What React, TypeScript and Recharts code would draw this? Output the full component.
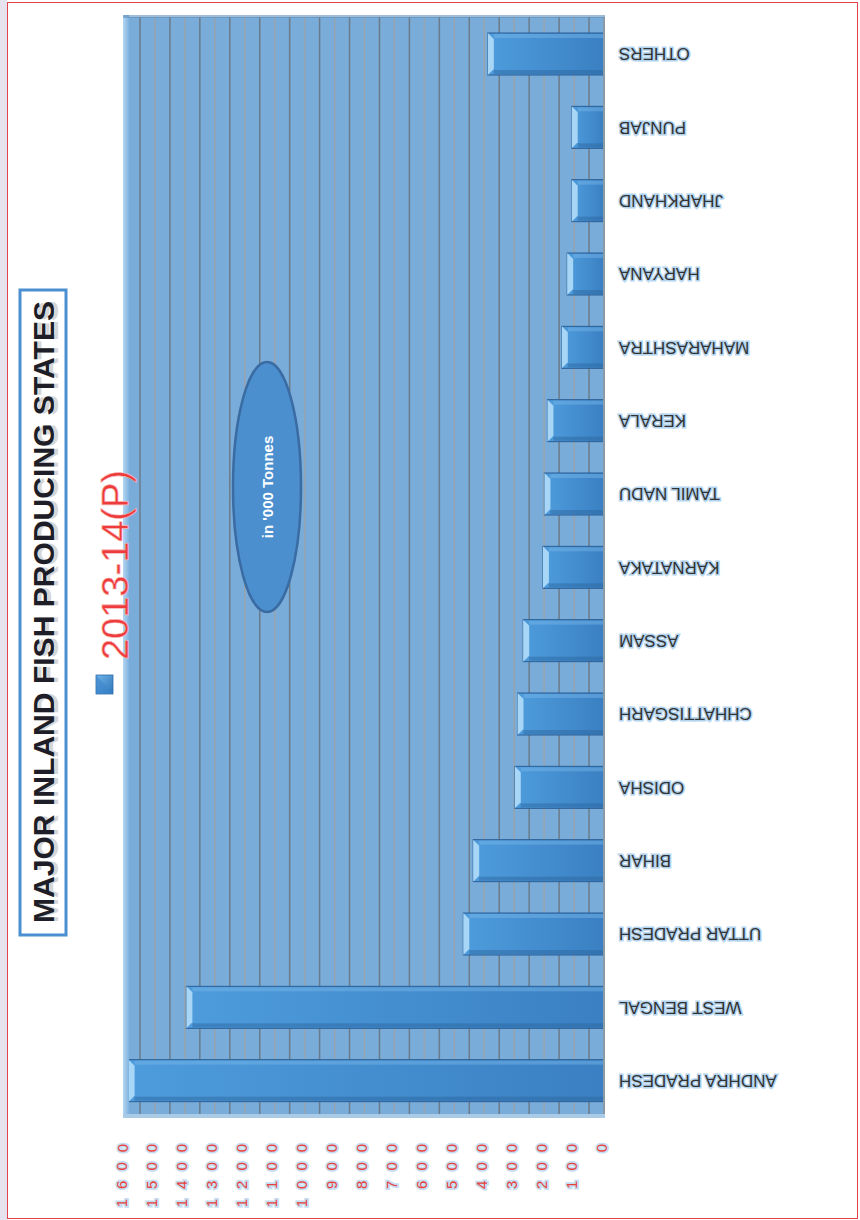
import { BarChart, Bar, XAxis, YAxis, CartesianGrid } from 'recharts';

const states = [
  'ANDHRA PRADESH', 'WEST BENGAL', 'UTTAR PRADESH', 'BIHAR', 'ODISHA',
  'CHHATTISGARH', 'ASSAM', 'KARNATAKA', 'TAMIL NADU', 'KERALA',
  'MAHARASHTRA', 'HARYANA', 'JHARKHAND', 'PUNJAB', 'OTHERS',
];
const production = [1588, 1395, 470, 437, 298, 289, 270, 204, 199, 189, 141, 123, 108, 108, 388];
const valueTicks = [0, 100, 200, 300, 400, 500, 600, 700, 800, 900, 1000, 1100, 1200, 1300, 1400, 1500, 1600];
const halfTicks = [50, 150, 250, 350, 450, 550, 650, 750, 850, 950, 1050, 1150, 1250, 1350, 1450, 1550];
const seriesName = '2013-14(P)';
const chartTitle = 'MAJOR INLAND FISH  PRODUCING STATES';
const unitNote = "in '000 Tonnes";

const data = states.map((s, i) => ({ state: s, value: production[i] }));

const FONT = '"Liberation Sans", Arial, sans-serif';

// stacked, rotated digits under the axis
const ValueTick = (props: any) => {
  const { x, y, payload } = props;
  const chars = String(payload.value).split('');
  const n = chars.length;
  const cx = x - 3;
  return (
    <g>
      {chars.map((c, i) => {
        const cy = y + 23 + (n - 1 - i) * 18.4;
        return (
          <text key={i} x={cx} y={cy} transform={`rotate(-90 ${cx} ${cy})`}
            textAnchor="middle" dominantBaseline="central" fontSize={15}
            fontFamily={FONT} fill="#e8413c" stroke="#c6def2" strokeWidth={3.5}
            paintOrder="stroke">{c}</text>
        );
      })}
    </g>
  );
};

// upside-down state names
const StateTick = (props: any) => {
  const { x, y, payload } = props;
  const ax = x + 7;
  return (
    <text x={ax} y={y} transform={`rotate(180 ${ax} ${y})`} textAnchor="end"
      dominantBaseline="central" fontSize={17} fontFamily={FONT} fill="#333"
      stroke="#b3d4ef" strokeWidth={3} paintOrder="stroke">{payload.value}</text>
  );
};

const BevelBar = (props: any) => {
  const { x, y, width, height } = props;
  const left = Math.min(x, x + width);
  const w = Math.abs(width);
  const b = 6;
  return (
    <g>
      <rect x={left} y={y} width={w} height={height} fill="url(#barBody)" stroke="#2a5f96" strokeWidth={1} />
      <rect x={left + b} y={y + 1} width={Math.max(w - b - 1, 0)} height={4} fill="#7ab8ea" opacity={0.45} />
      <rect x={left + b} y={y + height - 5} width={Math.max(w - b - 1, 0)} height={4} fill="#2a639c" opacity={0.45} />
      <polygon points={`${left},${y} ${left + b},${y + b} ${left + b},${y + height - b} ${left},${y + height}`} fill="#a8d6f6" />
    </g>
  );
};

export default function App() {
  return (
    <div style={{ position: 'absolute', left: 0, top: 0, width: 860, height: 1220, background: '#fff' }}>
      <BarChart width={860} height={1220} data={data} layout="vertical"
        margin={{ top: 17, right: 20, bottom: 3, left: 125 }}>
        <CartesianGrid horizontal={false} vertical verticalValues={valueTicks}
          stroke="#97a3ae" strokeWidth={1.5} fill="#79acd9" fillOpacity={1} />
        <CartesianGrid horizontal={false} vertical verticalValues={halfTicks}
          stroke="#6b7b8b" strokeWidth={1.5} />
        <XAxis type="number" domain={[0, 1600]} ticks={valueTicks} reversed
          axisLine={false} tickLine={false} height={100} interval={0} tick={<ValueTick />} />
        <YAxis type="category" dataKey="state" orientation="right" reversed width={236}
          axisLine={{ stroke: '#8c9aa6', strokeWidth: 2 }} tickLine={false} interval={0}
          tick={<StateTick />} />
        <Bar dataKey="value" barSize={42} shape={<BevelBar />} isAnimationActive={false} />
      </BarChart>
      <svg width={860} height={1220} style={{ position: 'absolute', left: 0, top: 0, pointerEvents: 'none' }}>
        <defs>
          <linearGradient id="barBody" x1="0" y1="0" x2="1" y2="0">
            <stop offset="0" stopColor="#4e9cdc" />
            <stop offset="1" stopColor="#3a80c2" />
          </linearGradient>
          <linearGradient id="wall" x1="0" y1="0" x2="1" y2="0">
            <stop offset="0" stopColor="#b4d6f2" />
            <stop offset="1" stopColor="#7fb2de" />
          </linearGradient>
          <linearGradient id="legendSq" x1="0" y1="0" x2="1" y2="1">
            <stop offset="0" stopColor="#6fb4ea" />
            <stop offset="1" stopColor="#2f74b8" />
          </linearGradient>
        </defs>
        <rect x={0} y={0} width={7} height={1220} fill="#e6e2ee" />
        <rect x={7.5} y={2.5} width={850} height={1216} fill="none" stroke="#e0424e" strokeWidth={1} />
        {/* 3d wall + floor */}
        <rect x={123} y={15} width={6} height={1102} fill="url(#wall)" />
        <rect x={123} y={1114} width={482} height={4} fill="#a9cbe6" />
        <rect x={123} y={15} width={482} height={3} fill="#5f8fbd" opacity={0.6} />
        {/* title */}
        <rect x={20} y={290} width={46} height={645} fill="#fff" stroke="#4a8fd0" strokeWidth={3} />
        <text x={47} y={612} transform="rotate(-90 47 612)" textAnchor="middle" dominantBaseline="central"
          fontSize={30} fontWeight="bold" fontFamily={FONT} fill="#bbb" opacity={0.6}
          textLength={622} lengthAdjust="spacingAndGlyphs">{chartTitle}</text>
        <text x={43} y={612} transform="rotate(-90 43 612)" textAnchor="middle" dominantBaseline="central"
          fontSize={30} fontWeight="bold" fontFamily={FONT} fill="#1e1e28"
          textLength={622} lengthAdjust="spacingAndGlyphs">{chartTitle}</text>
        {/* legend */}
        <rect x={96} y={675} width={17} height={19} fill="url(#legendSq)" stroke="#2d6aa8" strokeWidth={0.8} />
        <polygon points="96,675 113,694 96,694" fill="#3a86cc" opacity={0.6} />
        <text x={128} y={660} transform="rotate(-90 128 660)" fontSize={36} fontFamily={FONT}
          fill="#ee3b3b" stroke="#f7b8b8" strokeWidth={0.6} textLength={190} lengthAdjust="spacingAndGlyphs">{seriesName}</text>
        {/* unit note */}
        <ellipse cx={267} cy={487} rx={34} ry={125} fill="#4b8fcf" stroke="#3a6ca3" strokeWidth={2.5} />
        <text x={267} y={487} transform="rotate(-90 267 487)" textAnchor="middle" dominantBaseline="central"
          fontSize={15} fontWeight="bold" fontFamily={FONT} fill="#fff">{unitNote}</text>
      </svg>
    </div>
  );
}
